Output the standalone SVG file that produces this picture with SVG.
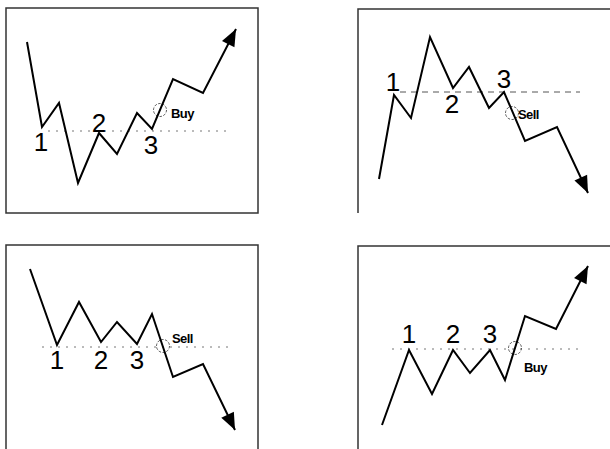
<svg xmlns="http://www.w3.org/2000/svg" width="610" height="449" viewBox="0 0 610 449">
<style>
.frame{fill:none;stroke:#333;stroke-width:1.5}
.price{fill:none;stroke:#000;stroke-width:2;stroke-linejoin:miter;marker-end:url(#ah)}
.level{stroke:#777;stroke-width:1;stroke-dasharray:2 6}
.level2{stroke:#555;stroke-width:1;stroke-dasharray:6 5}
.num{font-family:"Liberation Sans",Arial,sans-serif;font-size:26px;fill:#000;text-anchor:middle}
.sig{font-family:"Liberation Sans",Arial,sans-serif;font-size:13px;font-weight:bold;fill:#000;letter-spacing:-0.6px}
.ring{fill:none;stroke:#555;stroke-width:1;stroke-dasharray:2.5 1.5}
</style>
<defs>
<marker id="ah" viewBox="0 0 10 10" refX="10" refY="5" markerWidth="10" markerHeight="10" markerUnits="userSpaceOnUse" orient="auto" overflow="visible">
<path d="M-7,-2 L10,5 L-7,12 Z" fill="#000"/>
</marker>
</defs>
<g id="frames">
<rect class="frame" x="6" y="8" width="252" height="205"/>
<path class="frame" d="M358,213 V9 H612"/>
<path class="frame" d="M6,452 V245 H258 V452"/>
<path class="frame" d="M358,452 V246 H612"/>
</g>
<g id="panel-buy-top">
<line class="level" x1="48" y1="131" x2="228" y2="131"/>
<circle class="ring" cx="160" cy="110" r="6.5"/>
<text class="sig" x="171" y="118">Buy</text>
<text class="num" x="41" y="151">1</text>
<text class="num" x="99" y="132">2</text>
<text class="num" x="151" y="154">3</text>
</g>
<g id="panel-sell-top">
<line class="level2" x1="400" y1="92" x2="580" y2="92"/>
<circle class="ring" cx="512" cy="113" r="6.5"/>
<text class="sig" x="518" y="119">Sell</text>
<text class="num" x="393" y="91">1</text>
<text class="num" x="452" y="113">2</text>
<text class="num" x="504" y="88">3</text>
</g>
<g id="panel-sell-bottom">
<line class="level" x1="42" y1="347" x2="228" y2="347"/>
<circle class="ring" cx="163" cy="346" r="6.5"/>
<text class="sig" x="172" y="343">Sell</text>
<text class="num" x="57" y="369">1</text>
<text class="num" x="101" y="369">2</text>
<text class="num" x="137" y="369">3</text>
</g>
<g id="panel-buy-bottom">
<line class="level" x1="392" y1="349" x2="580" y2="349"/>
<circle class="ring" cx="515" cy="348" r="6.5"/>
<text class="sig" x="524" y="372">Buy</text>
<text class="num" x="409" y="343">1</text>
<text class="num" x="453" y="343">2</text>
<text class="num" x="490" y="343">3</text>
</g>
<g id="connectors">
<polyline class="price" points="27,42 42,127 59,103 78,183 99,133 117,154 137,113 152,129 173,79 203,93 236,29"/>
<polyline class="price" points="379,179 394,95 411,118 430,37 453,88 469,67 489,108 504,92 525,141 557,127 588,193"/>
<polyline class="price" points="30,269 57,345 79,302 101,342 117,322 137,344 152,314 173,377 203,364 235,430"/>
<polyline class="price" points="382,425 409,350 432,394 453,350 470,373 490,350 505,380 525,316 556,329 588,266"/>
</g>
</svg>
